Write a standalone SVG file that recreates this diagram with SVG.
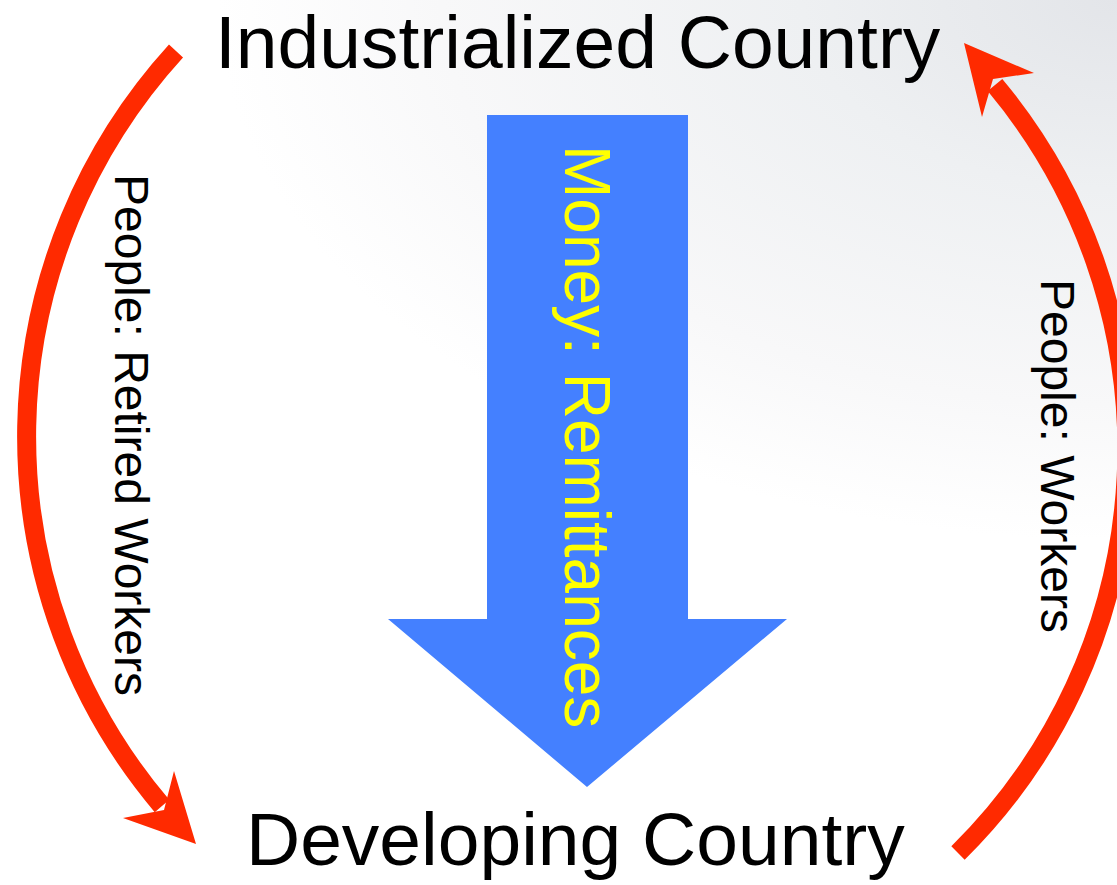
<svg xmlns="http://www.w3.org/2000/svg" width="1117" height="885" viewBox="0 0 1117 885">
  <defs>
    <radialGradient id="bg" cx="1117" cy="0" r="900" gradientUnits="userSpaceOnUse" gradientTransform="translate(1117 0) scale(1 0.6) translate(-1117 0)">
      <stop offset="0" stop-color="#e3e5e9"/>
      <stop offset="0.35" stop-color="#eef0f2"/>
      <stop offset="0.75" stop-color="#f8f8f9"/>
      <stop offset="1" stop-color="#ffffff"/>
    </radialGradient>
    <style>
      .title { font-family: "Liberation Sans", Arial, sans-serif; font-size: 75px; fill: #000000; }
      .side { font-family: "Liberation Sans", Arial, sans-serif; font-size: 48px; fill: #000000; }
      .money { font-family: "Liberation Sans", Arial, sans-serif; font-size: 64px; fill: #ffff00; }
      .flow { fill: none; stroke: #ff2a00; stroke-width: 19; stroke-linecap: butt; }
      .head { fill: #ff2a00; }
    </style>
  </defs>
  <rect x="0" y="0" width="1117" height="885" fill="#ffffff"/>
  <rect x="0" y="0" width="1117" height="885" fill="url(#bg)"/>

  <g id="connectors">
    <path class="flow" d="M176 51 A572 572 0 0 0 162 806"/>
    <polygon class="head" points="196,844 174,771 164,810 123,818"/>
    <path class="flow" d="M958 853 A568 568 0 0 0 995 85"/>
    <polygon class="head" points="964,43 1034,73 993,79 982,117"/>
  </g>

  <g id="node-industrialized">
    <text class="title" x="215" y="68">Industrialized Country</text>
  </g>

  <g id="node-developing">
    <text class="title" x="246" y="865">Developing Country</text>
  </g>

  <g id="node-money">
    <polygon points="487,115 688,115 688,619 787,619 587,787 388,619 487,619" fill="#4480ff"/>
    <text class="money" transform="translate(565,145) rotate(90)">Money: Remittances</text>
  </g>

  <g id="label-retired">
    <text class="side" transform="translate(115,174) rotate(90)">People: Retired Workers</text>
  </g>

  <g id="label-workers">
    <text class="side" transform="translate(1041,279) rotate(90)">People: Workers</text>
  </g>
</svg>
